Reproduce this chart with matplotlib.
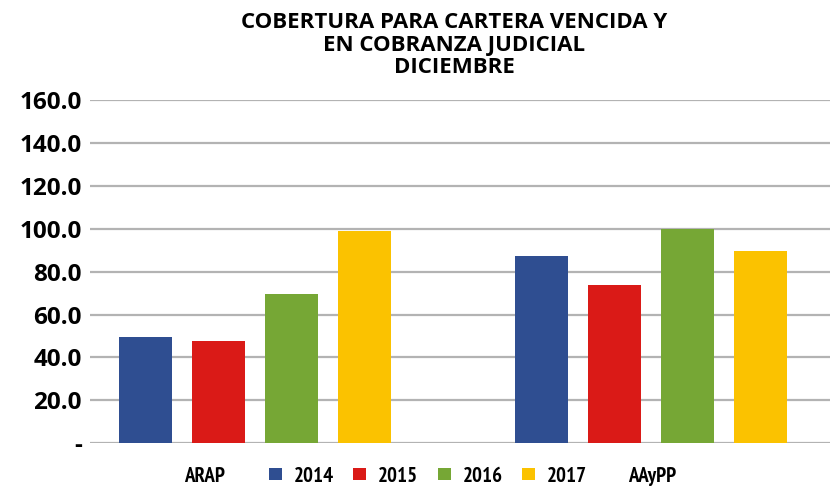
import matplotlib
matplotlib.use("Agg")
import matplotlib.pyplot as plt
import numpy as np

categories = ["ARAP", "AAyPP"]
years = ["2014", "2015", "2016", "2017"]
values = {
    "2014": [49.7, 87.2],
    "2015": [47.7, 73.7],
    "2016": [69.7, 100.0],
    "2017": [99.0, 89.5],
}
colors = {"2014": "#2F4E91", "2015": "#DA1A17", "2016": "#76A735", "2017": "#FBC200"}
yticks = [0, 20, 40, 60, 80, 100, 120, 140, 160]
yticklabels = ["-", "20.0", "40.0", "60.0", "80.0", "100.0", "120.0", "140.0", "160.0"]

W, H = 830, 491
fig = plt.figure(figsize=(W / 100, H / 100), dpi=100)
ax = fig.add_axes([90 / W, 1 - 443.3 / H, 740 / W, (443.3 - 100) / H])

narrow = ["PT Sans Narrow", "Open Sans Condensed", "Barlow Condensed", "DejaVu Sans"]
mainfont = ["Open Sans", "DejaVu Sans"]

x = np.arange(len(categories))
step = 73 / 395.5
width = 53 / 395.5
handles = []
for i, yr in enumerate(years):
    b = ax.bar(x + (i - 1.5) * step, values[yr], width, color=colors[yr], label=yr, zorder=3)
    handles.append(b)

ax.set_xlim((90 - 255) / 395.5, (830 - 255) / 395.5)
ax.set_ylim(0, 160)
ax.set_yticks(yticks)
ax.set_yticklabels(yticklabels, fontfamily=mainfont, fontweight="bold", fontsize=17.5)
ax.yaxis.grid(True, color="#B3B3B3", linewidth=1.6, zorder=0)
ax.tick_params(axis="y", length=0, pad=6)
for s in ax.spines.values():
    s.set_visible(False)

ax.set_xticks([(204 - 255) / 395.5, (652.5 - 255) / 395.5])
ax.set_xticklabels(categories, fontfamily=narrow, fontweight="bold", fontsize=15)
ax.tick_params(axis="x", length=0, pad=17)

leg = fig.legend(handles=handles, labels=years, loc="center", bbox_to_anchor=(428 / W, 1 - 476 / H),
                 ncol=4, frameon=False, prop={"family": narrow, "weight": "bold", "size": 15},
                 handlelength=0.62, handleheight=0.48, handletextpad=0.58, columnspacing=0.92,
                 borderpad=0, borderaxespad=0)

title_lines = ["COBERTURA PARA CARTERA VENCIDA Y", "EN COBRANZA JUDICIAL", "DICIEMBRE"]
baselines = [28, 50.5, 73]
for line, yb in zip(title_lines, baselines):
    fig.text(454 / W, 1 - yb / H, line, ha="center", va="baseline",
             fontfamily=mainfont, fontweight="bold", fontsize=16)

fig.savefig("out.png", dpi=100, facecolor="white")
